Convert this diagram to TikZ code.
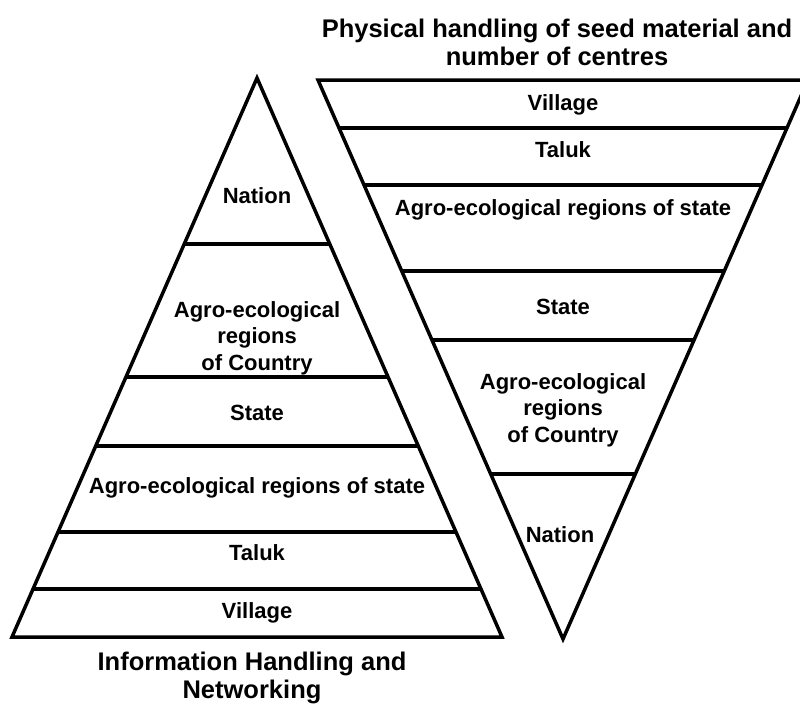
\documentclass[tikz,border=0pt]{standalone}
\usepackage{fontspec}
\setmainfont{Liberation Sans}
\usetikzlibrary{calc}
\begin{document}
\begin{tikzpicture}[x=1pt,y=-1pt,
  edge/.style={line width=3.5pt, line join=miter},
  tier/.style={font=\bfseries\fontsize{22}{26.5}\selectfont, align=center, inner sep=0pt},
  heading/.style={font=\bfseries\fontsize{25.5}{28}\selectfont, align=center, inner sep=0pt}]
\clip (0,0) rectangle (800,704);

% upright pyramid: information handling and networking
\coordinate (la) at (257,78);
\coordinate (ll) at (12,637);
\coordinate (lr) at (502,637);
\draw[edge] (la) -- (ll) -- (lr) -- cycle;
\foreach \y in {244,377,446,532,589}
  \draw[edge] ($(la)!{(\y-78)/559}!(ll)$) -- ($(la)!{(\y-78)/559}!(lr)$);

\node[tier, anchor=base] (lnation)  at (257,203) {Nation};
\node[tier]              (lagroc)   at (257,338) {Agro-ecological\\regions\\of Country};
\node[tier, anchor=base] (lstate)   at (257,420) {State};
\node[tier, anchor=base] (lagros)   at (257,493) {Agro-ecological regions of state};
\node[tier, anchor=base] (ltaluk)   at (257,560) {Taluk};
\node[tier, anchor=base] (lvillage) at (257,618) {Village};

\node[heading] (lhead) at (252,678) {Information Handling and\\Networking};

% inverted pyramid: physical handling of seed material
\coordinate (rl) at (318,80);
\coordinate (rr) at (808,80);
\coordinate (ra) at (563,639);
\draw[edge] (rl) -- (rr) -- (ra) -- cycle;
\foreach \y in {128,185,271,340,474}
  \draw[edge] ($(rl)!{(\y-80)/559}!(ra)$) -- ($(rr)!{(\y-80)/559}!(ra)$);

\node[tier, anchor=base] (rvillage) at (563,110) {Village};
\node[tier, anchor=base] (rtaluk)   at (563,157) {Taluk};
\node[tier, anchor=base] (ragros)   at (563,215) {Agro-ecological regions of state};
\node[tier, anchor=base] (rstate)   at (563,314) {State};
\node[tier]              (ragroc)   at (563,410) {Agro-ecological\\regions\\of Country};
\node[tier, anchor=base] (rnation)  at (560,542) {Nation};

\node[heading] (rhead) at (557,42) {Physical handling of seed material and\\number of centres};
\end{tikzpicture}
\end{document}
